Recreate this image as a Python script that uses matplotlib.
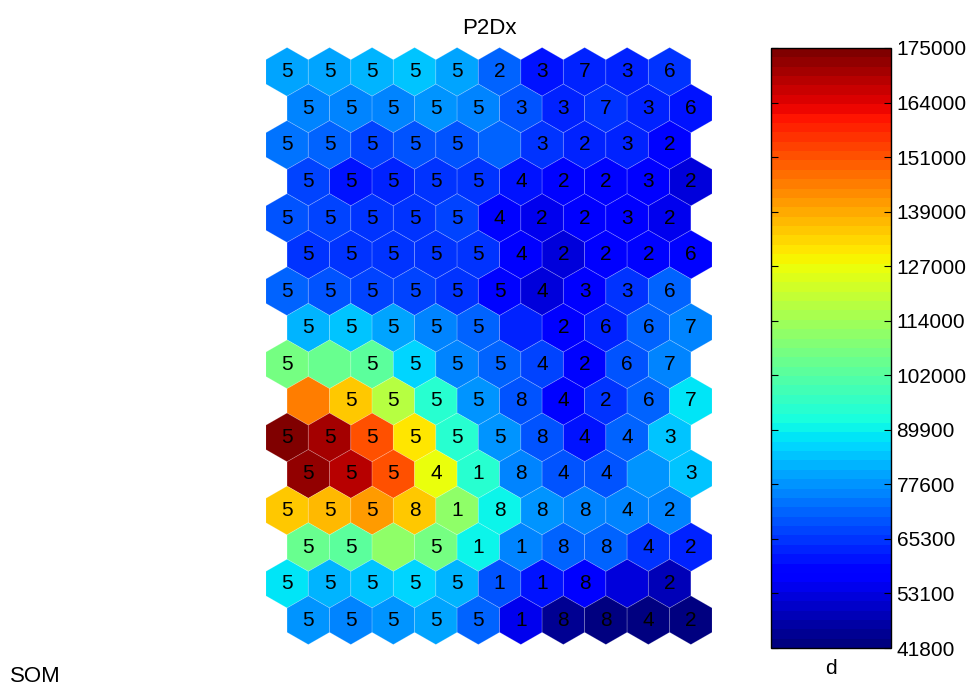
import numpy as np
import matplotlib
matplotlib.use("Agg")
import matplotlib.pyplot as plt
from matplotlib.patches import RegularPolygon
from matplotlib.colors import Normalize

plt.rcParams['font.family'] = ['Liberation Sans', 'DejaVu Sans']

# component plane values (d), read row by row, top to bottom (in thousands)
d_values = [
    [80.0, 80.0, 82.0, 84.5, 80.5, 72.0, 62.0, 63.6, 63.6, 65.0],
    [76.7, 75.4, 76.0, 78.0, 75.4, 70.2, 64.3, 65.0, 63.6, 61.0],
    [74.1, 71.5, 67.6, 68.9, 70.2, 72.8, 65.0, 63.6, 63.6, 60.5],
    [67.6, 62.3, 63.6, 65.0, 66.3, 62.3, 60.5, 58.5, 57.8, 53.8],
    [68.9, 67.6, 66.3, 66.3, 67.6, 60.5, 55.8, 58.0, 58.0, 55.0],
    [66.3, 65.5, 66.3, 65.5, 65.0, 57.8, 53.1, 57.8, 59.5, 59.0],
    [71.5, 70.2, 67.6, 67.6, 66.3, 60.4, 53.8, 58.0, 66.3, 72.8],
    [83.2, 84.0, 80.5, 75.4, 71.5, 63.6, 58.0, 63.6, 71.5, 76.7],
    [107.5, 106.2, 102.2, 87.0, 75.4, 72.8, 67.6, 60.5, 68.9, 75.4],
    [144.0, 133.6, 117.7, 95.7, 78.0, 68.9, 60.5, 65.0, 72.8, 88.4],
    [175.0, 169.3, 151.7, 130.4, 95.7, 79.0, 68.9, 62.3, 71.5, 85.5],
    [172.0, 166.9, 151.7, 127.0, 94.4, 76.7, 68.9, 68.9, 79.0, 84.5],
    [134.2, 137.4, 140.0, 133.6, 111.3, 89.8, 78.0, 75.4, 75.4, 76.7],
    [104.8, 103.5, 111.3, 107.5, 89.8, 76.7, 72.8, 72.8, 65.0, 63.6],
    [88.4, 83.2, 84.5, 87.0, 83.2, 70.2, 61.5, 57.1, 53.8, 48.7],
    [79.0, 76.7, 79.0, 80.0, 72.8, 55.0, 44.7, 43.4, 43.4, 42.5],
]

# hit labels on each unit ('' = no label)
labels = [
    ['5', '5', '5', '5', '5', '2', '3', '7', '3', '6'],
    ['5', '5', '5', '5', '5', '3', '3', '7', '3', '6'],
    ['5', '5', '5', '5', '5', '', '3', '2', '3', '2'],
    ['5', '5', '5', '5', '5', '4', '2', '2', '3', '2'],
    ['5', '5', '5', '5', '5', '4', '2', '2', '3', '2'],
    ['5', '5', '5', '5', '5', '4', '2', '2', '2', '6'],
    ['5', '5', '5', '5', '5', '5', '4', '3', '3', '6'],
    ['5', '5', '5', '5', '5', '', '2', '6', '6', '7'],
    ['5', '', '5', '5', '5', '5', '4', '2', '6', '7'],
    ['', '5', '5', '5', '5', '8', '4', '2', '6', '7'],
    ['5', '5', '5', '5', '5', '5', '8', '4', '4', '3'],
    ['5', '5', '5', '4', '1', '8', '4', '4', '', '3'],
    ['5', '5', '5', '8', '1', '8', '8', '8', '4', '2'],
    ['5', '5', '', '5', '1', '1', '8', '8', '4', '2'],
    ['5', '5', '5', '5', '5', '1', '1', '8', '', '2'],
    ['5', '5', '5', '5', '5', '1', '8', '8', '4', '2'],
]

cbar_ticklabels = ['41800', '53100', '65300', '77600', '89900', '102000',
                   '114000', '127000', '139000', '151000', '164000', '175000']
d_min, d_max = 41800, 175000


def main():
    fig = plt.figure(figsize=(9.79, 6.85), dpi=100)
    ax = fig.add_axes([0.2715, 0.0591, 0.4559, 0.8716])

    cmap = plt.get_cmap('jet', 64)
    norm = Normalize(d_min, d_max)
    vals = np.array(d_values) * 1000
    rad = 1 / np.sqrt(3)
    h = np.sqrt(3) / 2
    nrows, ncols = vals.shape

    for r in range(nrows):
        for c in range(ncols):
            x = c + (0.5 if r % 2 == 1 else 0)
            y = -r * h
            hexa = RegularPolygon((x, y), numVertices=6, radius=rad,
                                  facecolor=cmap(norm(vals[r, c])),
                                  edgecolor=(1, 1, 1, 0.2), linewidth=0.6)
            ax.add_patch(hexa)
            if labels[r][c]:
                ax.text(x, y, labels[r][c], ha='center', va='center',
                        fontsize=15, color='black')

    ax.set_xlim(-0.5, 10.0)
    ax.set_ylim(-(nrows - 1) * h - rad, rad)
    ax.axis('off')
    ax.set_title('P2Dx', fontsize=16, pad=10)

    cax = fig.add_axes([0.7876, 0.054, 0.1225, 0.876])
    sm = plt.cm.ScalarMappable(norm=norm, cmap=cmap)
    cb = fig.colorbar(sm, cax=cax)
    ticks = np.linspace(d_min, d_max, len(cbar_ticklabels))
    cb.set_ticks(ticks)
    cb.set_ticklabels(cbar_ticklabels)
    cax.tick_params(labelsize=15, direction='in', length=5, width=0.8,
                    left=True, right=True, pad=4)
    cb.outline.set_linewidth(1.0)
    cax.set_xlabel('d', fontsize=15, labelpad=8)

    fig.text(0.01, 0.005, 'SOM', fontsize=16)

    fig.savefig('out.png', dpi=100)


if __name__ == "__main__":
    main()
